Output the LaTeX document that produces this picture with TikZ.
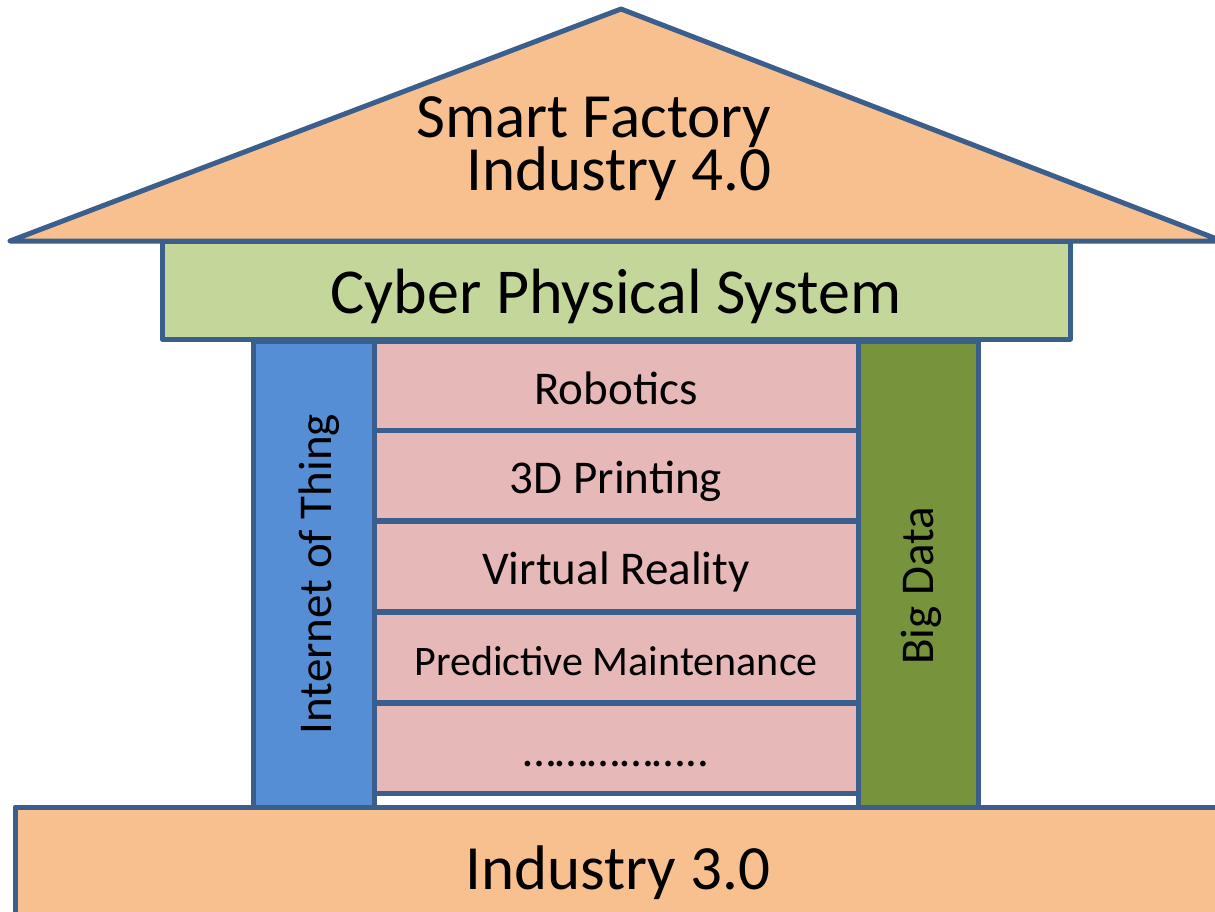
\documentclass[tikz,border=0pt]{standalone}
\usepackage{fontspec}
\setmainfont{Carlito}

\definecolor{edgecol}{HTML}{3A5F8C}
\definecolor{roofcol}{HTML}{F9C08F}
\definecolor{cpscol}{HTML}{C4D79B}
\definecolor{rowcol}{HTML}{E6B8B7}
\definecolor{iotcol}{HTML}{558ED5}
\definecolor{bdcol}{HTML}{77933C}

\tikzset{
  block/.style={draw=edgecol, line width=5pt, line join=round, inner sep=0pt},
  bigtext/.style={font=\fontsize{63}{70}\selectfont},
  midtext/.style={font=\fontsize{47}{54}\selectfont},
  rowbox/.style={block, fill=rowcol, minimum width=484, minimum height=90, midtext,
    text height=36pt, text depth=0pt},
}

\begin{document}
\begin{tikzpicture}[x=1pt,y=-1pt]
  \useasboundingbox (0,0) rectangle (1215,911);
  \clip (0,0) rectangle (1215,911);

  % roof
  \draw[block, fill=roofcol] (10,241) -- (621,9) -- (1222,241) -- cycle;
  \node[bigtext, anchor=base east] (smart) at (775,137) {Smart Factory};
  \node[bigtext, anchor=base east] (ind4)  at (775,190) {Industry 4.0};

  % beam
  \node[block, fill=cpscol, minimum width=908, minimum height=98, font=\fontsize{64}{70}\selectfont,
    text height=46pt, text depth=0pt] (cps) at (616,290) {Cyber Physical System};

  % pillars
  \node[block, fill=iotcol, rotate=90, minimum width=466, minimum height=121, midtext,
    text height=36pt, text depth=0pt] (iot) at (313.5,574) {Internet of Thing};
  \node[block, fill=bdcol, rotate=90, minimum width=466, minimum height=120, midtext,
    text height=30pt, text depth=0pt] (bd) at (918,574) {Big Data\hspace*{24pt}};

  % technologies
  \node[rowbox] (robot) at (616,386) {Robotics};
  \node[rowbox] (print) at (616,475) {3D Printing};
  \node[rowbox] (vr)    at (616,566) {Virtual Reality};
  \node[rowbox, font=\fontsize{42}{48}\selectfont] (pm) at (616,657) {Predictive Maintenance};
  \node[rowbox] (more)  at (616,748) {……………..};

  % base
  \node[block, fill=roofcol, minimum width=1206, minimum height=118, bigtext,
    text height=46pt, text depth=0pt] (ind3) at (618,866) {Industry 3.0};

\end{tikzpicture}
\end{document}
